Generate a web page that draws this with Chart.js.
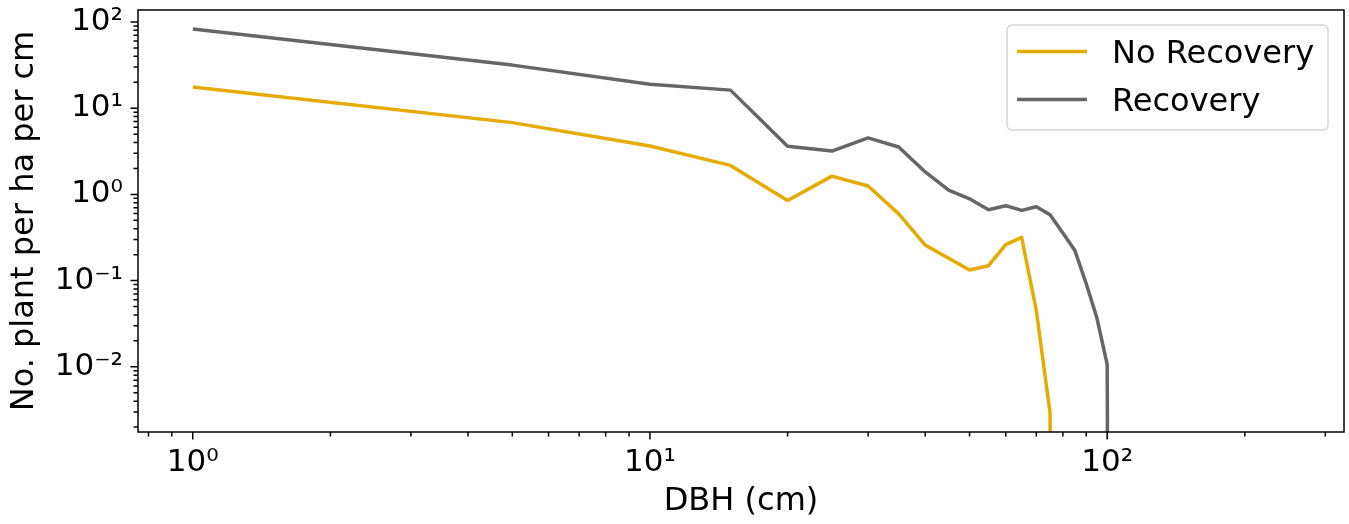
<!DOCTYPE html>
<html>
<head>
<meta charset="utf-8">
<title>DBH distribution</title>
<script src="https://cdn.jsdelivr.net/npm/chart.js"></script>
<style>
  html, body { margin: 0; padding: 0; background: #fff; }
  #wrap { width: 1349px; height: 524px; }
</style>
</head>
<body>
<div id="wrap"><canvas id="dbhChart" width="1349" height="524"></canvas></div>
<script>
// DBH classes (cm) and stems per ha per cm for each scenario
const dbh = [1, 5, 10, 15, 20, 25, 30, 35, 40, 45, 50, 55, 60, 65, 70, 75, 80, 85, 90, 95, 100, 105];
const noRecovery = [17.6, 6.8, 3.65, 2.17, 0.85, 1.63, 1.25, 0.595, 0.258, 0.182, 0.133, 0.149, 0.262, 0.318, 0.0448, 0.00294, 0, 0, 0, 0, 0, 0];
const recovery = [83, 31.6, 18.9, 16.2, 3.61, 3.18, 4.52, 3.55, 1.82, 1.12, 0.89, 0.664, 0.74, 0.652, 0.72, 0.58, 0.357, 0.223, 0.092, 0.0365, 0.0107, 0];

const seriesLabels = ['No Recovery', 'Recovery'];
const seriesColors = ['#E6AB02', '#666666'];

// axis ranges
const xLimits = [0.759, 329.6];
const yLimits = [0.001754, 137.7];

const FONT = "'DejaVu Sans', sans-serif";
Chart.defaults.font.family = FONT;
Chart.defaults.color = '#000';

// log axes can't take 0, so empty classes are pushed far below the axis (same as matplotlib clipping)
const LOG_FLOOR = 1e-30;
function toPoints(values) {
    return dbh.map((d, i) => ({ x: d, y: values[i] > 0 ? values[i] : LOG_FLOOR }));
}

// 1..9 x 10^n ticks inside [min, max]
function logTicks(min, max) {
    const out = [];
    for (let e = Math.floor(Math.log10(min)); e <= Math.ceil(Math.log10(max)); e++) {
        for (let m = 1; m < 10; m++) {
            const v = m * Math.pow(10, e);
            if (v >= min * 0.9999 && v <= max * 1.0001) out.push({ value: v });
        }
    }
    return out;
}

function isDecade(v) {
    const l = Math.log10(v);
    return Math.abs(l - Math.round(l)) < 1e-9;
}

const SUP = { '-': '\u207B', '0': '\u2070', '1': '\u00B9', '2': '\u00B2', '3': '\u00B3',
              '4': '\u2074', '5': '\u2075', '6': '\u2076', '7': '\u2077', '8': '\u2078', '9': '\u2079' };

function powLabel(v) {
    if (!isDecade(v)) return '';
    const e = String(Math.round(Math.log10(v)));
    return '10' + e.split('').map(c => SUP[c]).join('');
}

// white background, box around the plot, major/minor tick marks
const framePlugin = {
    id: 'axesFrame',
    beforeDraw(chart) {
        const ctx = chart.ctx;
        ctx.save();
        ctx.fillStyle = '#fff';
        ctx.fillRect(0, 0, chart.width, chart.height);
        ctx.restore();
    },
    afterDatasetsDraw(chart) {
        const { ctx, chartArea: a, scales } = chart;
        ctx.save();
        ctx.strokeStyle = '#000';
        ctx.lineWidth = 1.5;
        ctx.strokeRect(a.left, a.top, a.right - a.left, a.bottom - a.top);

        ctx.beginPath();
        scales.x.ticks.forEach(t => {
            const px = scales.x.getPixelForValue(t.value);
            const len = isDecade(t.value) ? 7.5 : 4.5;
            ctx.moveTo(px, a.bottom);
            ctx.lineTo(px, a.bottom + len);
        });
        scales.y.ticks.forEach(t => {
            const py = scales.y.getPixelForValue(t.value);
            const len = isDecade(t.value) ? 7.5 : 4.5;
            ctx.moveTo(a.left, py);
            ctx.lineTo(a.left - len, py);
        });
        ctx.stroke();
        ctx.restore();
    }
};

// legend box in the upper right corner
const legendPlugin = {
    id: 'cornerLegend',
    afterDraw(chart) {
        const ctx = chart.ctx;
        const a = chart.chartArea;
        const box = { x: a.right - 337, y: a.top + 15, w: 321, h: 105, r: 5 };
        ctx.save();
        ctx.beginPath();
        ctx.moveTo(box.x + box.r, box.y);
        ctx.arcTo(box.x + box.w, box.y, box.x + box.w, box.y + box.h, box.r);
        ctx.arcTo(box.x + box.w, box.y + box.h, box.x, box.y + box.h, box.r);
        ctx.arcTo(box.x, box.y + box.h, box.x, box.y, box.r);
        ctx.arcTo(box.x, box.y, box.x + box.w, box.y, box.r);
        ctx.closePath();
        ctx.fillStyle = 'rgba(255,255,255,0.8)';
        ctx.fill();
        ctx.strokeStyle = '#d6d6d6';
        ctx.lineWidth = 1.5;
        ctx.stroke();

        ctx.font = '32px ' + FONT;
        ctx.textBaseline = 'alphabetic';
        ctx.textAlign = 'left';
        chart.data.datasets.forEach((ds, i) => {
            const cy = box.y + 26.5 + i * 48;
            ctx.strokeStyle = ds.borderColor;
            ctx.lineWidth = 3.5;
            ctx.beginPath();
            ctx.moveTo(box.x + 10, cy);
            ctx.lineTo(box.x + 80, cy);
            ctx.stroke();
            ctx.fillStyle = '#000';
            ctx.fillText(ds.label, box.x + 105, cy + 11.7);
        });
        ctx.restore();
    }
};

const datasets = [noRecovery, recovery].map((vals, i) => ({
    label: seriesLabels[i],
    data: toPoints(vals),
    borderColor: seriesColors[i],
    backgroundColor: seriesColors[i],
    borderWidth: 3.5,
    borderJoinStyle: 'round',
    pointRadius: 0,
    tension: 0,
    fill: false
}));

new Chart(document.getElementById('dbhChart'), {
    type: 'line',
    data: { datasets: datasets },
    options: {
        responsive: false,
        animation: false,
        devicePixelRatio: 1,
        layout: { padding: { left: 0, right: 5, top: 10, bottom: 0 } },
        plugins: { legend: { display: false }, tooltip: { enabled: false } },
        scales: {
            x: {
                type: 'logarithmic',
                position: 'bottom',
                min: xLimits[0],
                max: xLimits[1],
                bounds: 'data',
                afterBuildTicks: s => { s.ticks = logTicks(s.min, s.max); },
                afterFit: s => { s.height = 92; s.paddingLeft = 0; s.paddingRight = 0; },
                grid: { display: true, drawOnChartArea: false, drawTicks: true, tickLength: 7, color: 'rgba(0,0,0,0)' },
                border: { display: false },
                ticks: { autoSkip: false, maxRotation: 0, padding: 5, font: { size: 31 }, color: '#000', callback: v => powLabel(v) },
                title: { display: true, text: 'DBH (cm)', font: { size: 32 }, color: '#000', padding: { top: 0, bottom: 3 } }
            },
            y: {
                type: 'logarithmic',
                position: 'left',
                min: yLimits[0],
                max: yLimits[1],
                bounds: 'data',
                afterBuildTicks: s => { s.ticks = logTicks(s.min, s.max); },
                afterFit: s => { s.width = 138; s.paddingTop = 0; s.paddingBottom = 0; },
                grid: { display: true, drawOnChartArea: false, drawTicks: true, tickLength: 7, color: 'rgba(0,0,0,0)' },
                border: { display: false },
                ticks: { autoSkip: false, padding: 8, font: { size: 31 }, color: '#000', callback: v => powLabel(v) },
                title: { display: true, text: 'No. plant per ha per cm', font: { size: 32 }, color: '#000', padding: { top: 5, bottom: 0 } }
            }
        }
    },
    plugins: [framePlugin, legendPlugin]
});
</script>
</body>
</html>
